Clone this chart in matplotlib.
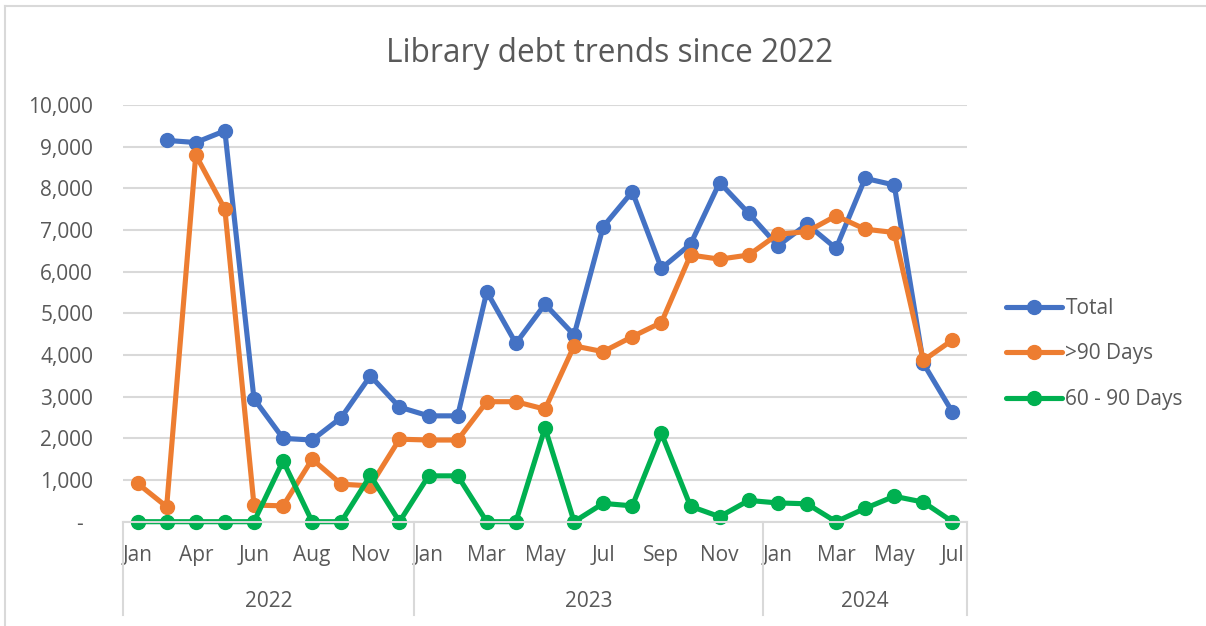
import numpy as np
import matplotlib
matplotlib.use("Agg")
import matplotlib.pyplot as plt
import matplotlib.transforms as mtransforms
from matplotlib.lines import Line2D

# ---------------- data ----------------
years = ["2022", "2023", "2024"]
months_2022 = ["Jan", "Mar", "Apr", "May", "Jun", "Jul", "Aug", "Oct", "Nov", "Dec"]
months_2023 = ["Jan", "Feb", "Mar", "Apr", "May", "Jun", "Jul", "Aug", "Sep", "Oct", "Nov", "Dec"]
months_2024 = ["Jan", "Feb", "Mar", "Apr", "May", "Jun", "Jul"]

total = [np.nan, 9150, 9100, 9380, 2950, 2000, 1960, 2500, 3500, 2750,
         2540, 2540, 5520, 4280, 5220, 4480, 7080, 7920, 6080, 6660, 8140, 7400,
         6620, 7140, 6560, 8240, 8080, 3800, 2630]
over_90 = [920, 360, 8800, 7500, 400, 380, 1500, 900, 860, 1980,
           1960, 1960, 2880, 2880, 2700, 4220, 4080, 4440, 4780, 6400, 6300, 6400,
           6900, 6960, 7340, 7020, 6940, 3870, 4360]
days_60_90 = [0, 0, 0, 0, 0, 1460, 0, 0, 1110, 0,
              1100, 1100, 0, 0, 2250, 0, 440, 380, 2120, 370, 120, 510,
              450, 430, 0, 320, 610, 470, 0]
series_names = ["Total", ">90 Days", "60 - 90 Days"]
y_ticks = [0, 1000, 2000, 3000, 4000, 5000, 6000, 7000, 8000, 9000, 10000]

# ---------------- style ----------------
FONT = ["Open Sans", "DejaVu Sans"]
plt.rcParams["font.family"] = FONT
TXT = "#595959"
GRID = "#D9D9D9"
colors = ["#4472C4", "#ED7D31", "#00B050"]

W, H = 1206, 626
fig = plt.figure(figsize=(W / 100, H / 100), dpi=100)

# plot area in pixels
L, R, T, B = 123, 967, 105, 521.7
ax = fig.add_axes([L / W, 1 - B / H, (R - L) / W, (B - T) / H])

month_groups = [months_2022, months_2023, months_2024]
months = [m for g in month_groups for m in g]
n = len(months)
x = np.arange(n)

for vals, c, name in zip([total, over_90, days_60_90], colors, series_names):
    ax.plot(x, vals, color=c, lw=3.7, marker="o", ms=10,
            solid_joinstyle="round", solid_capstyle="round", label=name,
            clip_on=False)

ax.set_xlim(-0.5, n - 0.5)
ax.set_ylim(0, 10000)
ax.set_yticks(y_ticks)
ax.set_yticklabels(["-" if v == 0 else f"{v:,}" for v in y_ticks])
ax.yaxis.grid(True, color=GRID, lw=1.5)
ax.set_axisbelow(True)
for s in ["left", "right", "top"]:
    ax.spines[s].set_visible(False)
ax.spines["bottom"].set_color(GRID)
ax.spines["bottom"].set_linewidth(1.5)

ax.tick_params(axis="y", length=0, pad=21.5, labelsize=15, labelcolor=TXT)
ax.tick_params(axis="x", length=0, pad=16.5, labelsize=15, labelcolor=TXT)

# shift the "-" zero label left (accounting format padding)
zero_lab = ax.get_yticklabels()[0]
zero_lab.set_transform(zero_lab.get_transform() +
                       mtransforms.ScaledTranslation(-10 / 100, 0, fig.dpi_scale_trans))

# month labels: every other category shown
ax.set_xticks(x[::2])
ax.set_xticklabels([months[i] for i in x[::2]])

# multi-level category axis: year labels and dividers
blend = mtransforms.blended_transform_factory(ax.transData, ax.transAxes)
ax_h = B - T
start = 0
bounds = [-0.5]
for yr, g in zip(years, month_groups):
    end = start + len(g)
    ax.text((start + end - 1) / 2, -(607 - B) / ax_h, yr, transform=blend,
            ha="center", va="baseline", fontsize=15, color=TXT)
    bounds.append(end - 0.5)
    start = end
for b in bounds:
    ax.add_line(Line2D([b, b], [0, -(615 - B) / ax_h], transform=blend,
                       color=GRID, lw=1.5, clip_on=False))

# title
fig.text(610 / W, 1 - 62 / H, "Library debt trends since 2022", ha="center",
         va="baseline", fontsize=22.8, color=TXT)

# legend
leg = ax.legend(loc="center left", bbox_to_anchor=(1006 / W, 1 - 354 / H),
                bbox_transform=fig.transFigure, frameon=False, fontsize=15,
                handlelength=2.7, handletextpad=0.15, labelspacing=1.18,
                borderpad=0, borderaxespad=0)
for t in leg.get_texts():
    t.set_color(TXT)

# chart border (light grey)
fig.add_artist(Line2D([5 / W, 1], [1 - 6 / H, 1 - 6 / H], transform=fig.transFigure,
                      color=GRID, lw=1.5))
fig.add_artist(Line2D([5 / W, 5 / W], [0, 1 - 6 / H], transform=fig.transFigure,
                      color=GRID, lw=1.5))

fig.savefig("out.png", dpi=100)
